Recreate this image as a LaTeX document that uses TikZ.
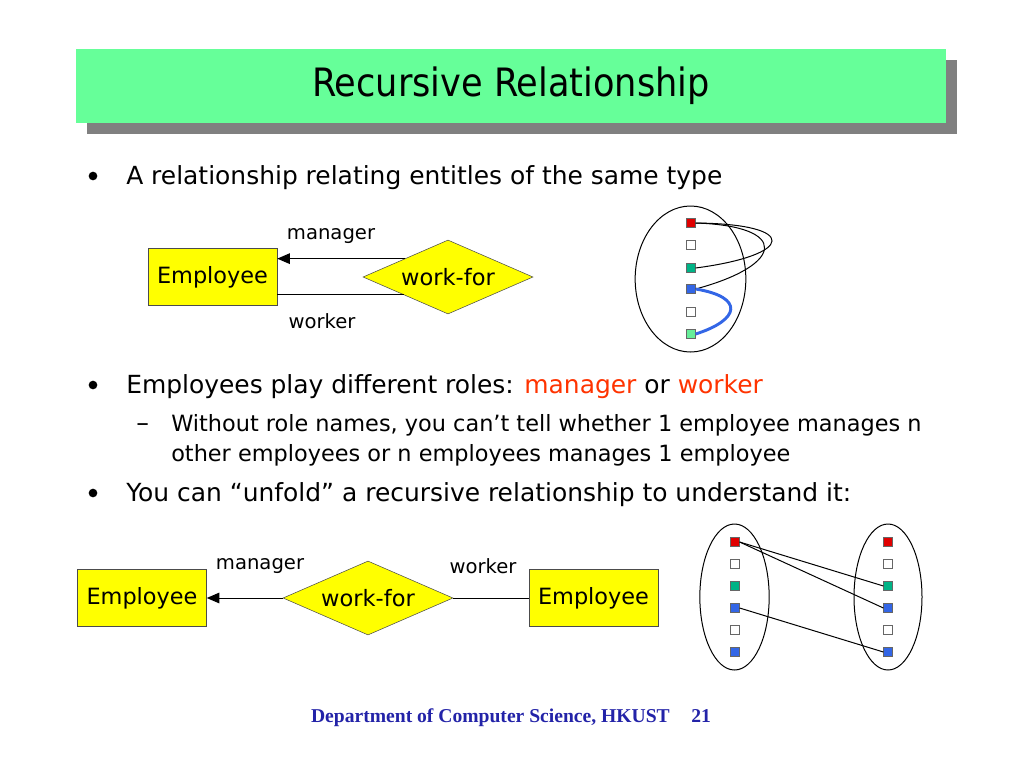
\documentclass[tikz,border=0pt]{standalone}
\usepackage{fontspec}
\setmainfont{DejaVu Sans}
\newfontfamily\titlefont{DejaVu Sans Condensed}
\newfontfamily\footfont{Liberation Serif}
\usetikzlibrary{shapes.geometric,arrows.meta}
\definecolor{titlegreen}{HTML}{66FF99}
\definecolor{shadowgray}{HTML}{808080}
\definecolor{entyellow}{HTML}{FFFF00}
\definecolor{rolered}{HTML}{FF3300}
\definecolor{sqred}{HTML}{E00000}
\definecolor{sqteal}{HTML}{00B386}
\definecolor{sqblue}{HTML}{3366E6}
\definecolor{sqlgreen}{HTML}{66EE99}
\definecolor{footblue}{HTML}{2323A8}
\tikzset{
  entity/.style={draw=black!70, fill=entyellow, minimum width=96.75pt, minimum height=43pt, inner sep=0pt, font=\fontsize{16.8pt}{20pt}\selectfont},
  rel/.style={diamond, aspect=2.3, draw=black!70, fill=entyellow, minimum width=127.5pt, minimum height=55.5pt, inner sep=0pt, font=\fontsize{16.9pt}{20pt}\selectfont},
  role/.style={font=\fontsize{14.7pt}{16pt}\selectfont},
  bul/.style={anchor=base west, inner sep=0pt, font=\fontsize{18.7pt}{21pt}\selectfont},
  dot/.style={anchor=center, inner sep=0pt, circle, fill=black, minimum size=6.5pt},
  subbul/.style={anchor=base west, inner sep=0pt, font=\fontsize{16.8pt}{18pt}\selectfont},
  sq/.style={draw=black!60, minimum size=6.5pt, inner sep=0pt},
  set/.style={ellipse, draw, line width=0.75pt, inner sep=0pt},
  link/.style={line width=0.75pt},
  arr/.style={line width=0.75pt, -{Triangle[length=9.5pt,width=8pt]}},
}
\begin{document}
\begin{tikzpicture}[x=0.75pt,y=-0.75pt]
\useasboundingbox (0,0) rectangle (1024,768);
% title
\fill[shadowgray] (87,60) rectangle (957,134);
\node[fill=titlegreen, minimum width=652.5pt, minimum height=55.5pt, inner sep=0pt, font=\titlefont\fontsize{29.3pt}{32pt}\selectfont] (title) at (511,86) {Recursive Relationship};
% bullets
\node[dot] (b1d) at (93,176) {};
\node[bul] (b1) at (126,184) {A relationship relating entitles of the same type};
\node[dot] (b2d) at (93,385) {};
\node[bul] (b2) at (126,393) {Employees play different roles: \textcolor{rolered}{manager} or \textcolor{rolered}{worker}};
\node[subbul, font=\fontsize{19pt}{20pt}\selectfont] (s1d) at (136,431) {–};
\node[subbul] (s1) at (171,431) {Without role names, you can’t tell whether 1 employee manages n};
\node[subbul] (s2) at (171,461) {other employees or n employees manages 1 employee};
\node[dot] (b3d) at (93,493) {};
\node[bul] (b3) at (126,501) {You can “unfold” a recursive relationship to understand it:};
% top ER diagram
\node[entity] (emp) at (212.5,277) {Employee};
\node[rel] (wf) at (448,277) {work-for};
\draw[arr] (wf.157.6) -- (wf.157.6 -| emp.east);
\draw[link] (wf.202.4) -- (wf.202.4 -| emp.east);
\node[role] (lm) at (331,236) {manager};
\node[role] (lw) at (322,321) {worker};
% top set
\node[set, minimum width=83pt, minimum height=109.5pt] (E1) at (690.5,279) {};
\node[sq, fill=sqred] (a1) at (691,223) {};
\node[sq, fill=white] (a2) at (691,245) {};
\node[sq, fill=sqteal] (a3) at (691,268) {};
\node[sq, fill=sqblue] (a4) at (691,289) {};
\node[sq, fill=white] (a5) at (691,312) {};
\node[sq, fill=sqlgreen] (a6) at (691,334) {};
\draw[link] (a1.east) .. controls (800,224) and (795,255) .. (a3.east);
\draw[link] (a1.east) .. controls (790,226) and (785,265) .. (a4.east);
\draw[line width=2.2pt, sqblue] (a4.east) .. controls (745,297) and (740,320) .. (a6.east);
% bottom ER diagram
\node[entity] (emp2) at (142,598) {Employee};
\node[rel] (wf2) at (368,598) {work-for};
\node[entity] (emp3) at (593.5,598) {Employee};
\draw[arr] (wf2.west) -- (emp2.east);
\draw[link] (wf2.east) -- (emp3.west);
\node[role] (lm2) at (260,566) {manager};
\node[role] (lw2) at (483,566) {worker};
% bottom sets
\node[set, minimum width=52pt, minimum height=109.5pt] (L) at (734.5,597) {};
\node[set, minimum width=51pt, minimum height=109.5pt] (R) at (888,597) {};
\node[sq, fill=sqred] (l1) at (735,542) {};
\node[sq, fill=white] (l2) at (735,564) {};
\node[sq, fill=sqteal] (l3) at (735,586) {};
\node[sq, fill=sqblue] (l4) at (735,608) {};
\node[sq, fill=white] (l5) at (735,630) {};
\node[sq, fill=sqblue] (l6) at (735,652) {};
\node[sq, fill=sqred] (r1) at (888,542) {};
\node[sq, fill=white] (r2) at (888,564) {};
\node[sq, fill=sqteal] (r3) at (888,586) {};
\node[sq, fill=sqblue] (r4) at (888,608) {};
\node[sq, fill=white] (r5) at (888,630) {};
\node[sq, fill=sqblue] (r6) at (888,652) {};
\draw[link] (l1.east) -- (r3.west);
\draw[link] (l1.east) -- (r4.west);
\draw[link] (l4.east) -- (r6.west);
% footer
\node[font=\footfont\bfseries\fontsize{14.7pt}{16pt}\selectfont, text=footblue] (foot) at (511,718) {Department of Computer Science, HKUST\hspace{1.1em}21};
\end{tikzpicture}
\end{document}
